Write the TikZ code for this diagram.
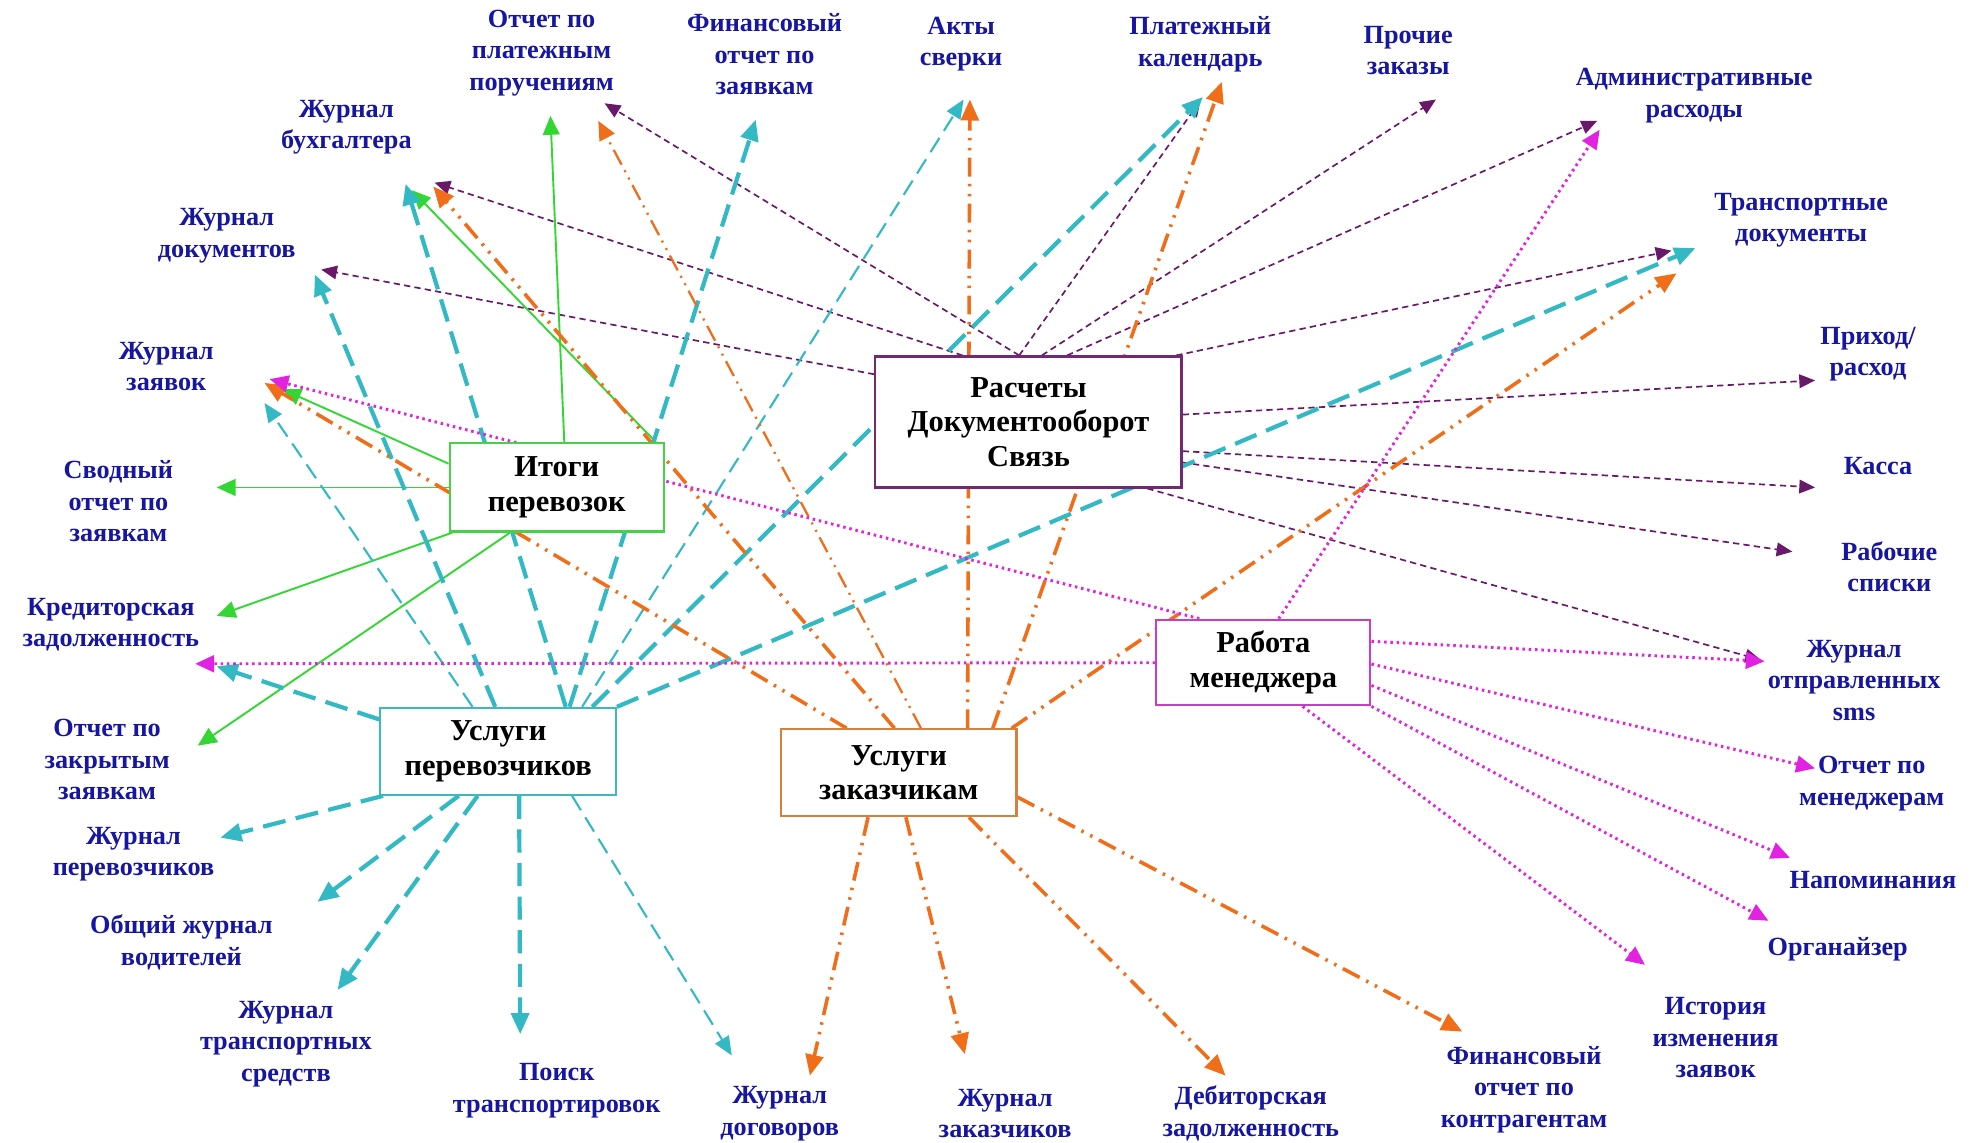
\documentclass[tikz,border=0pt]{standalone}
\usepackage{fontspec}
\setmainfont{Liberation Serif}
\usetikzlibrary{arrows.meta,calc}
\pgfdeclarelayer{bg}
\pgfsetlayers{bg,main}
\definecolor{lblue}{RGB}{22,22,160}
\definecolor{cgreen}{RGB}{50,215,50}
\definecolor{ccyan}{RGB}{50,185,195}
\definecolor{corange}{RGB}{240,110,25}
\definecolor{cpurple}{RGB}{105,25,105}
\definecolor{cmag}{RGB}{225,35,225}
\definecolor{bgreen}{RGB}{70,210,70}
\definecolor{bpurple}{RGB}{115,40,115}
\definecolor{bmag}{RGB}{200,60,200}
\definecolor{bcyan}{RGB}{60,185,190}
\definecolor{borange}{RGB}{210,130,60}
\begin{document}
\begin{tikzpicture}[x=0.6pt,y=-0.6pt,
  lbl/.style={text=lblue,font=\fontsize{12.5}{15}\selectfont\bfseries,align=center,inner sep=1pt},
  box/.style={draw,fill=white,line width=1pt,font=\fontsize{14.5}{16.4}\selectfont\bfseries,align=center,inner sep=0pt},
  grn/.style={cgreen,line width=0.9pt,-{Triangle[length=9pt,width=8pt]}},
  cynthick/.style={ccyan,line width=2pt,dash pattern=on 11pt off 5pt,-{Triangle[length=10pt,width=8.5pt]}},
  cynthin/.style={ccyan,line width=1pt,dash pattern=on 8pt off 4pt,-{Triangle[length=9pt,width=7.5pt]}},
  org/.style={corange,line width=1.7pt,dash pattern=on 9pt off 3.5pt on 1.2pt off 3.5pt on 1.2pt off 3.5pt,-{Triangle[length=10pt,width=8.5pt]}},
  orgthin/.style={corange,line width=1.1pt,dash pattern=on 8pt off 3pt on 1pt off 3pt on 1pt off 3pt,-{Triangle[length=9pt,width=8pt]}},
  prp/.style={cpurple,line width=0.8pt,dash pattern=on 3pt off 2pt,-{Triangle[length=7.5pt,width=6.5pt]}},
  mag/.style={cmag,line width=1.4pt,dash pattern=on 1.2pt off 1.8pt,-{Triangle[length=9pt,width=8pt]}},
]
\useasboundingbox (0,0) rectangle (1568,907);
\begin{pgfonlayer}{bg}
\fill[white] (0,0) rectangle (1568,907);
\end{pgfonlayer}

% boxes
\node[box,draw=bgreen,minimum width=102pt,minimum height=42pt] (itogi) at (442,387) {Итоги\\перевозок};
\node[box,draw=bpurple,minimum width=145.8pt,minimum height=62.4pt] (rasch) at (816.5,335) {Расчеты\\Документооборот\\Связь};
\node[box,draw=bmag,minimum width=102pt,minimum height=40.8pt] (rabota) at (1003,526) {Работа\\менеджера};
\node[box,draw=bcyan,minimum width=112.2pt,minimum height=41.4pt] (uslper) at (395.5,596.5) {Услуги\\перевозчиков};
\node[box,draw=borange,minimum width=112.2pt,minimum height=41.4pt] (uslzak) at (713.5,613.5) {Услуги\\заказчикам};

% labels
\node[lbl] (lOPP) at (430,42) {Отчет по\\платежным\\поручениям};
\node[lbl] (lFOZ) at (607,43) {Финансовый\\отчет по\\заявкам};
\node[lbl] (lAkt) at (763,35) {Акты\\сверки};
\node[lbl] (lPK) at (953,35) {Платежный\\календарь};
\node[lbl] (lPZ) at (1118,40) {Прочие\\заказы};
\node[lbl] (lAR) at (1345,76) {Административные\\расходы};
\node[lbl] (lTD) at (1430,175) {Транспортные\\документы};
\node[lbl] (lPR) at (1483,281) {Приход/\\расход};
\node[lbl] (lKassa) at (1491,370) {Касса};
\node[lbl] (lRS) at (1500,450) {Рабочие\\списки};
\node[lbl] (lSMS) at (1472,540) {Журнал\\отправленных\\sms};
\node[lbl] (lOM) at (1486,622) {Отчет по\\менеджерам};
\node[lbl] (lNap) at (1487,699) {Напоминания};
\node[lbl] (lOrg) at (1459,754) {Органайзер};
\node[lbl] (lIst) at (1362,824) {История\\изменения\\заявок};
\node[lbl] (lFOK) at (1210,865) {Финансовый\\отчет по\\контрагентам};
\node[lbl] (lDZ) at (993,884) {Дебиторская\\задолженность};
\node[lbl] (lZZ) at (798,884) {Журнал\\заказчиков};
\node[lbl] (lZD) at (619,884) {Журнал\\договоров};
\node[lbl] (lPT) at (442,866) {Поиск\\транспортировок};
\node[lbl] (lZTS) at (227,829) {Журнал\\транспортных\\средств};
\node[lbl] (lOZV) at (144,748) {Общий журнал\\водителей};
\node[lbl] (lZP) at (106,678) {Журнал\\перевозчиков};
\node[lbl] (lOZZ) at (85,603) {Отчет по\\закрытым\\заявкам};
\node[lbl] (lKZ) at (88,496) {Кредиторская\\задолженность};
\node[lbl] (lSO) at (94,398) {Сводный\\отчет по\\заявкам};
\node[lbl] (lZZa) at (132,291) {Журнал\\заявок};
\node[lbl] (lZDoc) at (180,187) {Журнал\\документов};
\node[lbl] (lZB) at (275,101) {Журнал\\бухгалтера};

% arrow tip points
\coordinate (gOPP) at (437,92);   \coordinate (gZB) at (327,151);
\coordinate (gZZa) at (224,309);  \coordinate (gSO) at (172,387);
\coordinate (gKZ) at (172,489);   \coordinate (gOZZ) at (157,592);
\coordinate (cZZa) at (210,320);  \coordinate (cZDoc) at (250,218);
\coordinate (cZB) at (322,146);   \coordinate (cFOZ) at (600,95);
\coordinate (cAkt) at (765,79);   \coordinate (cPK) at (955,77);
\coordinate (cTD) at (1346,197);  \coordinate (cKZ) at (172,529);
\coordinate (cZP) at (175,665);   \coordinate (cOZV) at (252,716);
\coordinate (cZTS) at (268,786);  \coordinate (cPT) at (413,821);
\coordinate (cZD) at (581,838);
\coordinate (oZZa) at (210,304);  \coordinate (oZB) at (344,148);
\coordinate (oOPP) at (475,96);   \coordinate (oAkt) at (770,79);
\coordinate (oPK) at (970,65);    \coordinate (oTD) at (1331,217);
\coordinate (oZD) at (643,854);   \coordinate (oZZ) at (766,837);
\coordinate (oDZ) at (973,854);   \coordinate (oFOK) at (1161,819);
\coordinate (pOPP) at (480,82);   \coordinate (pZB) at (345,145);
\coordinate (pZDoc) at (255,214); \coordinate (pPK) at (953,80);
\coordinate (pPZ) at (1140,79);   \coordinate (pAR) at (1268,96);
\coordinate (pTD) at (1327,199);  \coordinate (pPR) at (1441,302);
\coordinate (pKassa) at (1441,387); \coordinate (pRS) at (1423,438);
\coordinate (pSMS) at (1398,524);
\coordinate (mZZa) at (214,301);  \coordinate (mAR) at (1270,103);
\coordinate (mKZ) at (155,527);   \coordinate (mSMS) at (1401,525);
\coordinate (mOM) at (1441,610);  \coordinate (mNap) at (1421,681);
\coordinate (mOrg) at (1404,731); \coordinate (mIst) at (1306,766);

\begin{pgfonlayer}{bg}
% purple (Расчеты)
\draw[prp] ($(rasch.north west)+(115,0)$) -- (pOPP);
\draw[prp] ($(rasch.north west)+(70,0)$) -- (pZB);
\draw[prp] ($(rasch.north west)+(0,15)$) -- (pZDoc);
\draw[prp] ($(rasch.north west)+(115,0)$) -- (pPK);
\draw[prp] ($(rasch.north west)+(133,0)$) -- (pPZ);
\draw[prp] ($(rasch.north west)+(153,0)$) -- (pAR);
\draw[prp] ($(rasch.north east)+(-5,0)$) -- (pTD);
\draw[prp] ($(rasch.north east)+(0,47)$) -- (pPR);
\draw[prp] ($(rasch.north east)+(0,76)$) -- (pKassa);
\draw[prp] ($(rasch.north east)+(0,85)$) -- (pRS);
\draw[prp] ($(rasch.south east)+(-28,0)$) -- (pSMS);
% green (Итоги)
\draw[grn] ($(itogi.north)+(6,0)$) -- (gOPP);
\draw[grn] ($(itogi.north east)+(-7,0)$) -- (gZB);
\draw[grn] ($(itogi.north west)+(0,17)$) -- (gZZa);
\draw[grn] (itogi.west) -- (gSO);
\draw[grn] ($(itogi.south west)+(3,0)$) -- (gKZ);
\draw[grn] ($(itogi.south)+(-37,0)$) -- (gOZZ);
% cyan (Услуги перевозчиков)
\draw[cynthin] ($(uslper.north west)+(74,0)$) -- (cZZa);
\draw[cynthick] ($(uslper.north west)+(92,0)$) -- (cZDoc);
\draw[cynthick] ($(uslper.north west)+(148,0)$) -- (cZB);
\draw[cynthick] ($(uslper.north west)+(151,0)$) -- (cFOZ);
\draw[cynthin] ($(uslper.north west)+(161,0)$) -- (cAkt);
\draw[cynthick] ($(uslper.north west)+(169,0)$) -- (cPK);
\draw[cynthick] (uslper.north east) -- (cTD);
\draw[cynthick] ($(uslper.north west)+(0,10)$) -- (cKZ);
\draw[cynthick] ($(uslper.south west)+(3,0)$) -- (cZP);
\draw[cynthick] ($(uslper.south west)+(63,0)$) -- (cOZV);
\draw[cynthick] ($(uslper.south west)+(78,0)$) -- (cZTS);
\draw[cynthick] ($(uslper.south west)+(111,0)$) -- (cPT);
\draw[cynthin] ($(uslper.south west)+(153,0)$) -- (cZD);
% orange (Услуги заказчикам)
\draw[org] ($(uslzak.north west)+(53,0)$) -- (oZZa);
\draw[org] ($(uslzak.north west)+(91,0)$) -- (oZB);
\draw[orgthin] ($(uslzak.north west)+(112,0)$) -- (oOPP);
\draw[org] ($(uslzak.north west)+(149,0)$) -- (oAkt);
\draw[org] ($(uslzak.north west)+(169,0)$) -- (oPK);
\draw[org] ($(uslzak.north west)+(184,0)$) -- (oTD);
\draw[org] ($(uslzak.south west)+(70,0)$) -- (oZD);
\draw[org] ($(uslzak.south west)+(100,0)$) -- (oZZ);
\draw[org] ($(uslzak.south west)+(150,0)$) -- (oDZ);
\draw[org] ($(uslzak.south east)+(0,-16)$) -- (oFOK);
% magenta (Работа менеджера)
\draw[mag] ($(rabota.north west)+(35,0)$) -- (mZZa);
\draw[mag] ($(rabota.north west)+(98,0)$) -- (mAR);
\draw[mag] ($(rabota.north west)+(0,35)$) -- (mKZ);
\draw[mag] ($(rabota.north east)+(0,18)$) -- (mSMS);
\draw[mag] ($(rabota.north east)+(0,36)$) -- (mOM);
\draw[mag] ($(rabota.north east)+(0,53)$) -- (mNap);
\draw[mag] (rabota.south east) -- (mOrg);
\draw[mag] ($(rabota.south west)+(117,0)$) -- (mIst);
\end{pgfonlayer}
\end{tikzpicture}
\end{document}
